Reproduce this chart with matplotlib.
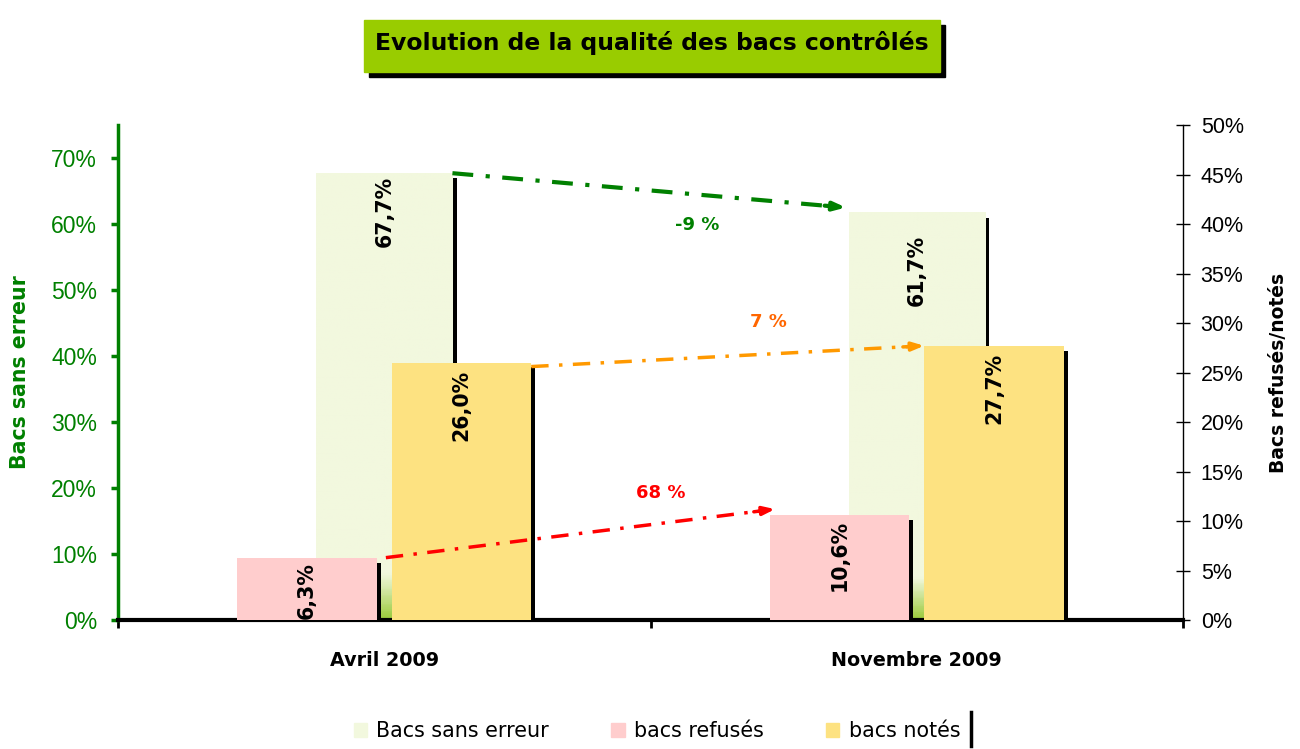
import numpy as np
import matplotlib.pyplot as plt
from matplotlib.patches import Rectangle, Patch
from matplotlib.lines import Line2D
from matplotlib.colors import LinearSegmentedColormap
import matplotlib.patheffects as pe

# data
periodes = ['Avril 2009', 'Novembre 2009']
sans_erreur = [67.7, 61.7]   # axe gauche
refuses = [6.3, 10.6]        # axe droit
notes = [26.0, 27.7]         # axe droit
evol_sans_erreur = '-9 %'
evol_notes = '7 %'
evol_refuses = '68 %'

c_vert = '#f2f8de'
c_rose = '#ffcdcd'
c_jaune = '#fde281'
vert_axe = '#008000'

BOLD = 'DejaVu Sans'
TICK = 'Liberation Sans'

fig = plt.figure(figsize=(13, 7.49), dpi=100)
ax1 = fig.add_axes([0.0908, 0.1722, 0.8192, 0.6609])
ax2 = ax1.twinx()

x = np.arange(len(periodes))
w_vert = 0.256
w = 0.262
dx = 0.145
ombre = [pe.SimplePatchShadow(offset=(3, -3.5), shadow_rgbFace='black', alpha=1), pe.Normal()]

# barres "sans erreur" avec degrade vert en bas
b1 = ax1.bar(x, sans_erreur, w_vert, color=c_vert, zorder=1)
cmap = LinearSegmentedColormap.from_list('g', [(0, '#9ccb3e'), (0.1, c_vert), (1, c_vert)])
grad = np.linspace(1, 0, 200).reshape(-1, 1)
for r in b1:
    r.set_path_effects(ombre)
    ax1.imshow(grad, cmap=cmap, vmin=0, vmax=1, aspect='auto', zorder=1.5,
               extent=[r.get_x(), r.get_x() + r.get_width(), 0, r.get_height()])

b2 = ax2.bar(x - dx, refuses, w, color=c_rose, zorder=1)
b3 = ax2.bar(x + dx, notes, w, color=c_jaune, zorder=1)
for r in list(b2) + list(b3):
    r.set_path_effects(ombre)

ax1.set_xlim(-0.5, 1.5)
ax1.set_ylim(0, 75)
ax2.set_ylim(0, 50)
ax1.set_yticks(np.arange(0, 71, 10))
ax2.set_yticks(np.arange(0, 51, 5))
ax1.set_yticklabels(['%d%%' % v for v in np.arange(0, 71, 10)], fontsize=16.5,
                    color=vert_axe, family=TICK)
ax2.set_yticklabels(['%d%%' % v for v in np.arange(0, 51, 5)], fontsize=15.5,
                    color='black', family=TICK)

# etiquettes de valeurs
decal = [3, 22]
for i, r in enumerate(b1):
    ax1.annotate(('%.1f%%' % sans_erreur[i]).replace('.', ','),
                 (r.get_x() + r.get_width() / 2, r.get_height()), xytext=(0, -decal[i]),
                 textcoords='offset pixels', rotation=90, ha='center', va='top',
                 fontsize=14.8, fontweight='bold', family=BOLD, zorder=5)
for bars, vals, d in [(b2, refuses, [4, 5]), (b3, notes, [7, 7])]:
    for i, r in enumerate(bars):
        ax2.annotate(('%.1f%%' % vals[i]).replace('.', ','),
                     (r.get_x() + r.get_width() / 2, r.get_height()), xytext=(0, -d[i]),
                     textcoords='offset pixels', rotation=90, ha='center', va='top',
                     fontsize=14.8, fontweight='bold', family=BOLD, zorder=5)

# fleches d'evolution
def fleche(ax, x0, y0, x1, y1, col, lw):
    ax.plot([x0, x1 - 0.03], [y0, y1 + (y1 - y0) * (-0.03 / (x1 - x0))], color=col, lw=lw,
            ls=(0, (5, 3, 1, 3)), zorder=6, solid_capstyle='butt', dash_capstyle='butt')
    ax.annotate('', xy=(x1, y1), xytext=(x1 - 0.04, y1 - (y1 - y0) * 0.04 / (x1 - x0)),
                arrowprops=dict(arrowstyle='-|>,head_length=0.7,head_width=0.25', color=col,
                                lw=lw, shrinkA=0, shrinkB=0), zorder=6)

fleche(ax1, b1[0].get_x() + w_vert, sans_erreur[0], b1[1].get_x() - 0.005, sans_erreur[1] + 0.8,
       vert_axe, 3)
fleche(ax2, b3[0].get_x() + w, notes[0] - 0.4, b3[1].get_x(), notes[1], '#ff9900', 2.5)
fleche(ax2, b2[0].get_x() + w + 0.017, refuses[0], b2[1].get_x() + 0.01, refuses[1] + 0.6,
       '#ff0000', 2.5)

ax1.text(0.587, 59.8, evol_sans_erreur, color=vert_axe, fontsize=13, fontweight='bold',
         family=BOLD, ha='center', va='center')
ax2.text(0.722, 30.1, evol_notes, color='#ff6600', fontsize=13, fontweight='bold',
         family=BOLD, ha='center', va='center')
ax2.text(0.519, 12.8, evol_refuses, color='#ff0000', fontsize=13, fontweight='bold',
         family=BOLD, ha='center', va='center')

# axes
for ax in (ax1, ax2):
    ax.spines['top'].set_visible(False)
    ax.set_facecolor('none')
ax1.spines['right'].set_visible(False)
ax2.spines['left'].set_visible(False)
ax2.spines['bottom'].set_visible(False)
ax1.spines['left'].set_color(vert_axe)
ax1.spines['left'].set_linewidth(2.5)
ax1.spines['bottom'].set_linewidth(3)
ax2.spines['right'].set_linewidth(1)
ax1.tick_params(axis='y', colors=vert_axe, direction='out', length=5, width=2.5, pad=10)
ax2.tick_params(axis='y', direction='inout', length=9.5, width=1, pad=8)
ax1.set_xticks([-0.5, 0.5, 1.5])
ax1.set_xticklabels([])
ax1.tick_params(axis='x', which='major', direction='out', length=6, width=2)
ax1.set_xticks(x, minor=True)
ax1.set_xticklabels(periodes, minor=True, fontsize=13.8, fontweight='bold', family=BOLD)
ax1.tick_params(axis='x', which='minor', length=0, pad=22)

ax1.set_ylabel('Bacs sans erreur', color=vert_axe, fontsize=14.8, fontweight='bold', family=BOLD)
ax1.yaxis.set_label_coords(-0.083, 0.5)
ax2.set_ylabel('Bacs refusés/notés', color='black', fontsize=13.5, fontweight='bold',
               family=BOLD, rotation=90)
ax2.yaxis.set_label_coords(1.081, 0.5)

# titre dans un cadre vert avec ombre
W, H = 1300, 749
fig.patches.append(Rectangle((369 / W, 1 - 77 / H), 576 / W, 52 / H, transform=fig.transFigure,
                             color='black', zorder=0))
fig.patches.append(Rectangle((364 / W, 1 - 72 / H), 576 / W, 52 / H, transform=fig.transFigure,
                             color='#99cc00', zorder=1))
fig.text(652 / W, 1 - 43 / H, 'Evolution de la qualité des bacs contrôlés', fontsize=16.9,
         fontweight='bold', family=BOLD, ha='center', va='center', zorder=2)

# legende
handles = [Patch(color=c_vert), Patch(color=c_rose), Patch(color=c_jaune)]
fig.legend(handles, ['Bacs sans erreur', 'bacs refusés', 'bacs notés'], loc='center',
           bbox_to_anchor=(657 / W, 1 - 731 / H), ncol=3, frameon=False,
           prop={'family': BOLD, 'size': 14.9}, handlelength=0.65, handleheight=0.65,
           handletextpad=0.45, columnspacing=3.0)
fig.add_artist(Line2D([971 / W, 971 / W], [1 - 712 / H, 1 - 746 / H], color='black', lw=2.5))

fig.savefig('out.png', dpi=100)
